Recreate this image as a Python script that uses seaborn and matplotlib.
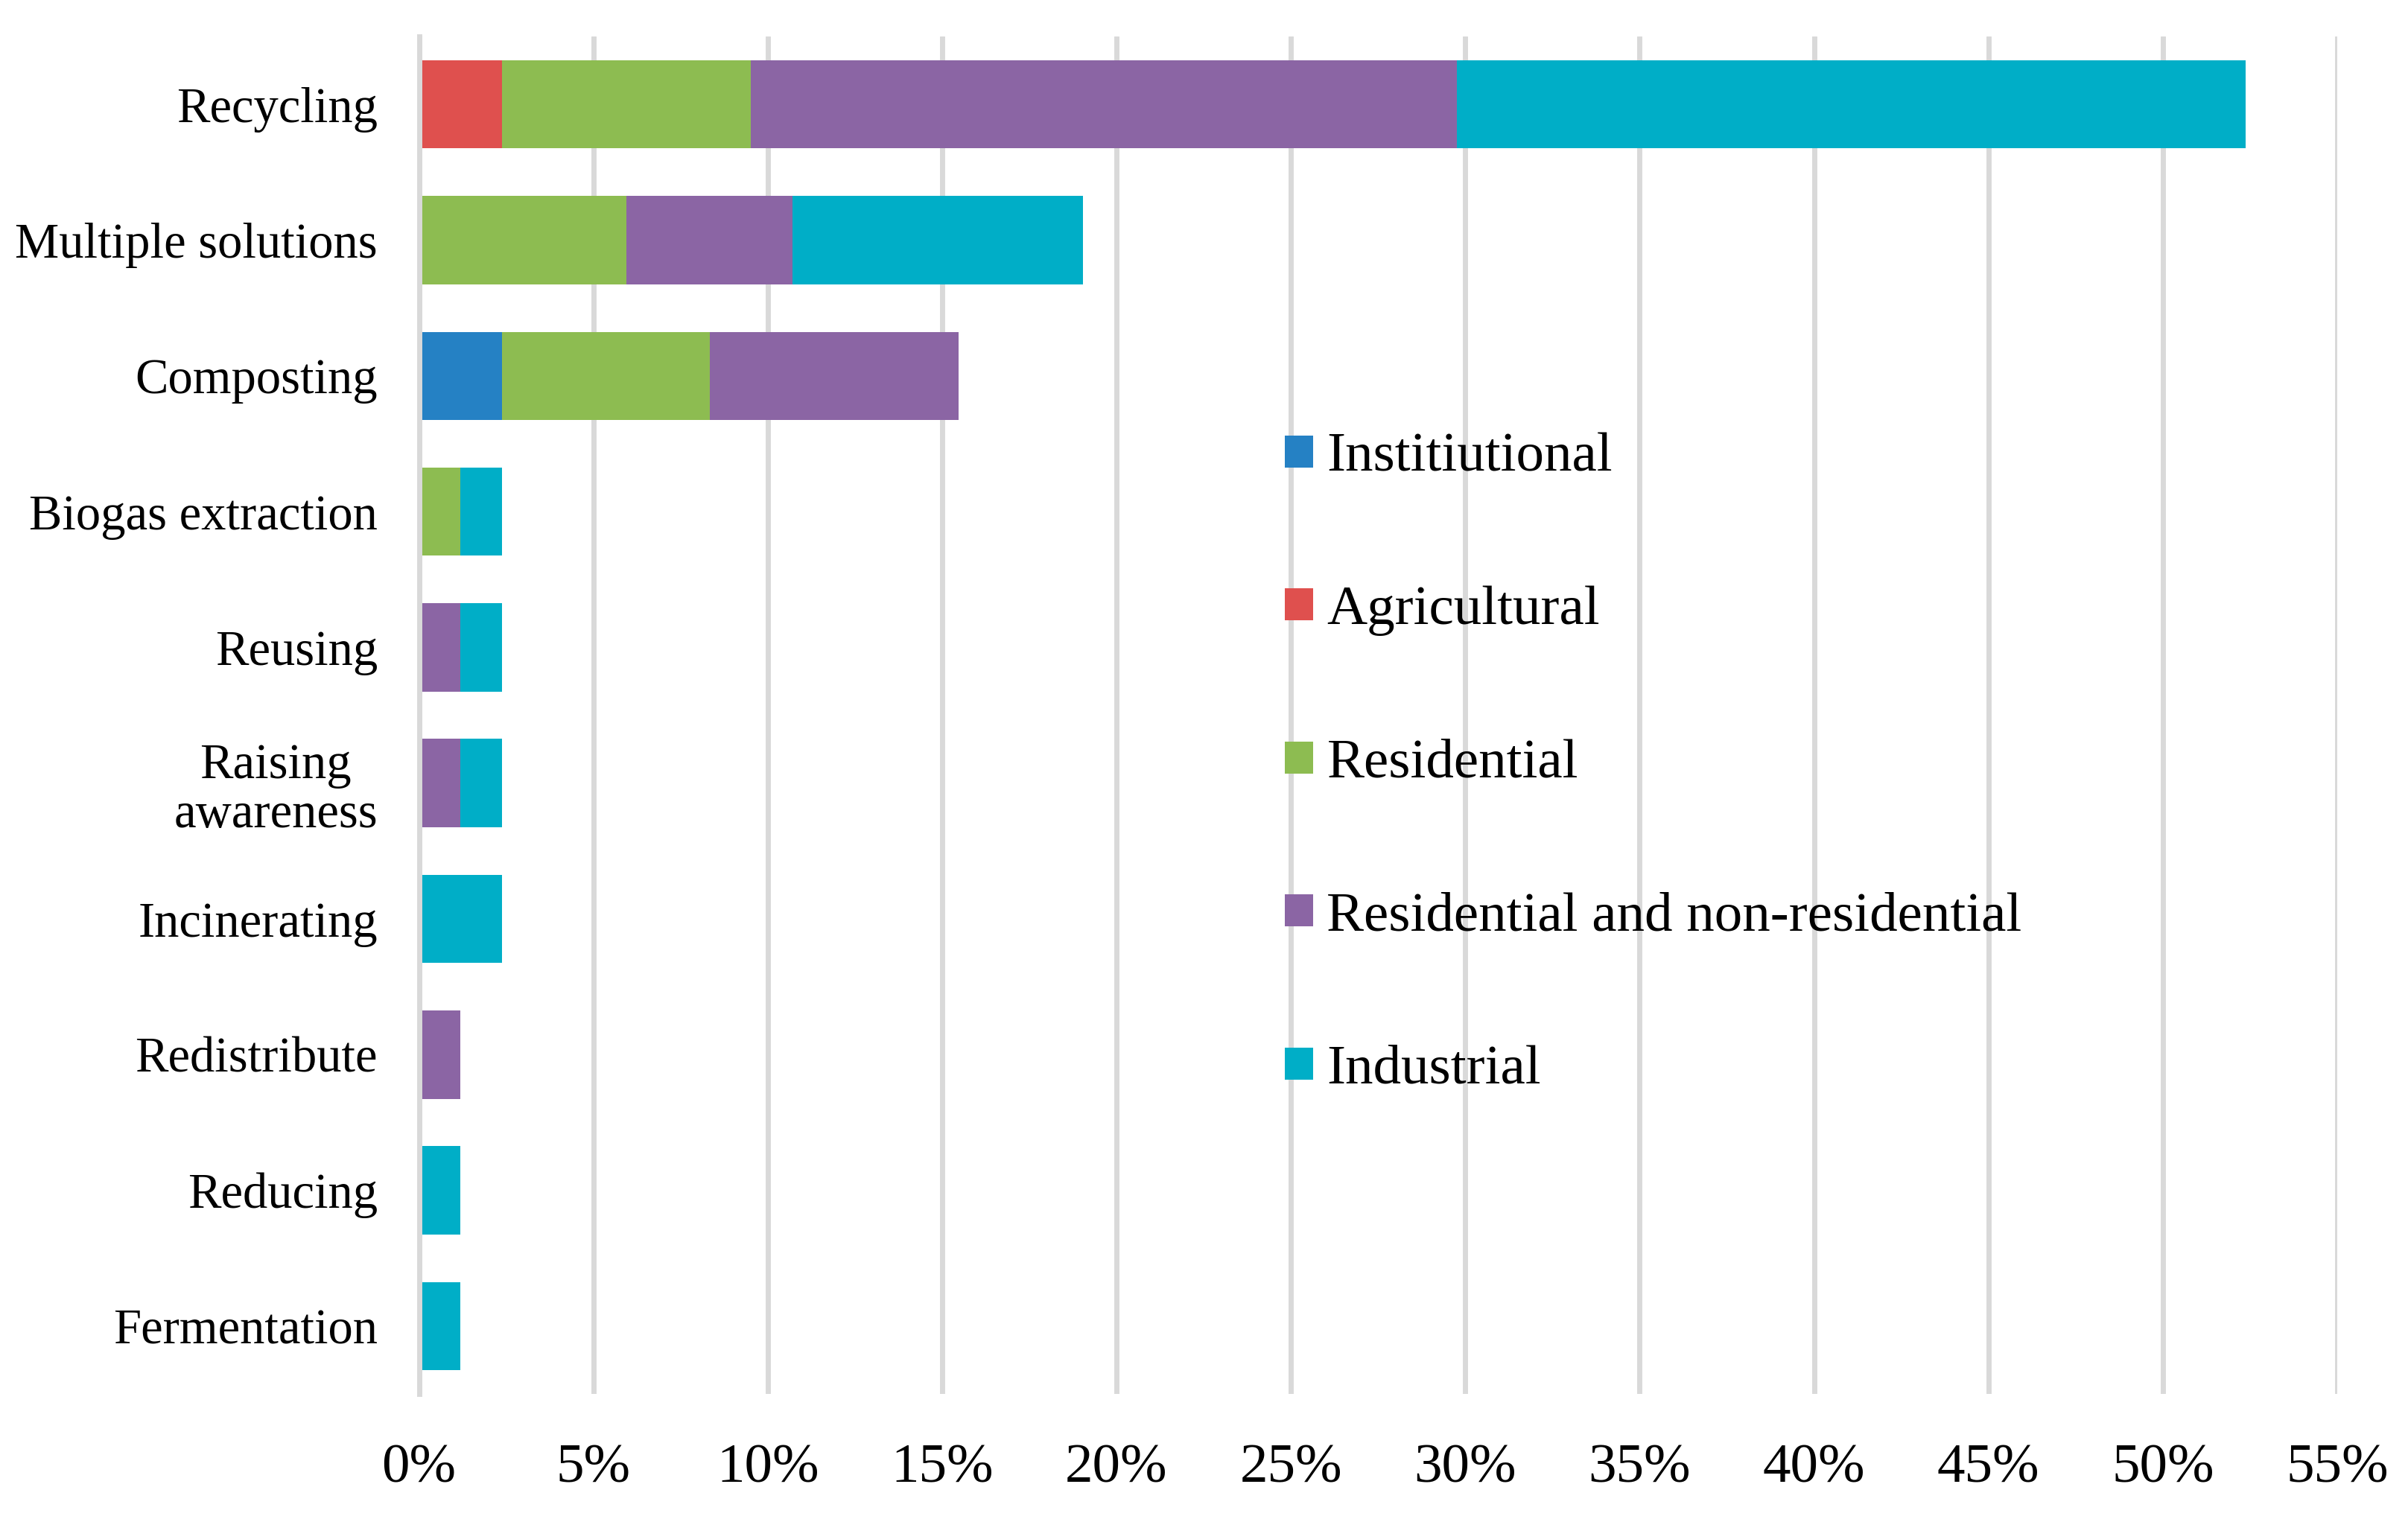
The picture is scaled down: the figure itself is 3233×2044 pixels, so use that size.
import numpy as np
import pandas as pd
import seaborn as sns
from matplotlib import pyplot as plt
from matplotlib.patches import Patch

# Categories (top to bottom) and share of studies per sector (%)
categories = ['Recycling', 'Multiple solutions', 'Composting', 'Biogas extraction',
              'Reusing', 'Raising\nawareness', 'Incinerating', 'Redistribute',
              'Reducing', 'Fermentation']
institutional = [0, 0, 2.38, 0, 0, 0, 0, 0, 0, 0]
agricultural = [2.38, 0, 0, 0, 0, 0, 0, 0, 0, 0]
residential = [7.14, 5.95, 5.95, 1.19, 0, 0, 0, 0, 0, 0]
res_nonres = [20.24, 4.76, 7.14, 0, 1.19, 1.19, 0, 1.19, 0, 0]
industrial = [22.62, 8.33, 0, 1.19, 1.19, 1.19, 2.38, 0, 1.19, 1.19]

series_names = ['Institiutional', 'Agricultural', 'Residential',
                'Residential and non-residential', 'Industrial']
colors = ['#2581C4', '#DF504E', '#8DBC51', '#8B65A4', '#00AEC7']
xticks = [0, 5, 10, 15, 20, 25, 30, 35, 40, 45, 50, 55]

data = pd.DataFrame({'category': categories,
                     series_names[0]: institutional,
                     series_names[1]: agricultural,
                     series_names[2]: residential,
                     series_names[3]: res_nonres,
                     series_names[4]: industrial})
cum = data[series_names].cumsum(axis=1)

sns.set_style("white")
plt.rcParams['font.family'] = ['Liberation Serif', 'DejaVu Serif']
plt.rcParams['text.color'] = 'black'

fig = plt.figure(figsize=(32.33, 20.44), dpi=100)
ax = fig.add_axes([0.174, 0.0841, 0.7966, 0.8919])

# stacked bars: draw cumulative totals from the last series back to the first
for name, col in reversed(list(zip(series_names, colors))):
    sns.barplot(x=cum[name], y=data['category'], color=col, saturation=1,
                width=0.65, errorbar=None, orient='h', ax=ax, zorder=2,
                linewidth=0, edgecolor='none')

ax.set_xlim(0, 55)
ax.set_xticks(xticks)
ax.set_xticklabels([f'{t}%' for t in xticks])
ax.set_xlabel('')
ax.set_ylabel('')
ax.grid(axis='x', color='#D9D9D9', linewidth=5, zorder=0)
ax.grid(axis='y', visible=False)
ax.set_axisbelow(True)
for s in ['top', 'right', 'bottom']:
    ax.spines[s].set_visible(False)
ax.spines['left'].set_color('#D9D9D9')
ax.spines['left'].set_linewidth(5)
ax.spines['left'].set_zorder(3)

ax.tick_params(axis='x', length=0, pad=48, labelsize=54, colors='black')
ax.tick_params(axis='y', length=0, pad=40, labelsize=48, colors='black')
for lab in ax.get_yticklabels():
    lab.set_multialignment('center')
    lab.set_linespacing(1.12)

handles = [Patch(facecolor=c, edgecolor='none', label=n)
           for n, c in zip(series_names, colors)]
fig.legend(handles=handles, loc='center left', bbox_to_anchor=(0.5336, 0.498),
           frameon=False, fontsize=54, handlelength=0.5, handleheight=0.5,
           handletextpad=0.25, labelspacing=1.84, borderpad=0, borderaxespad=0,
           labelcolor='black')

plt.savefig('out.png', dpi=100)
